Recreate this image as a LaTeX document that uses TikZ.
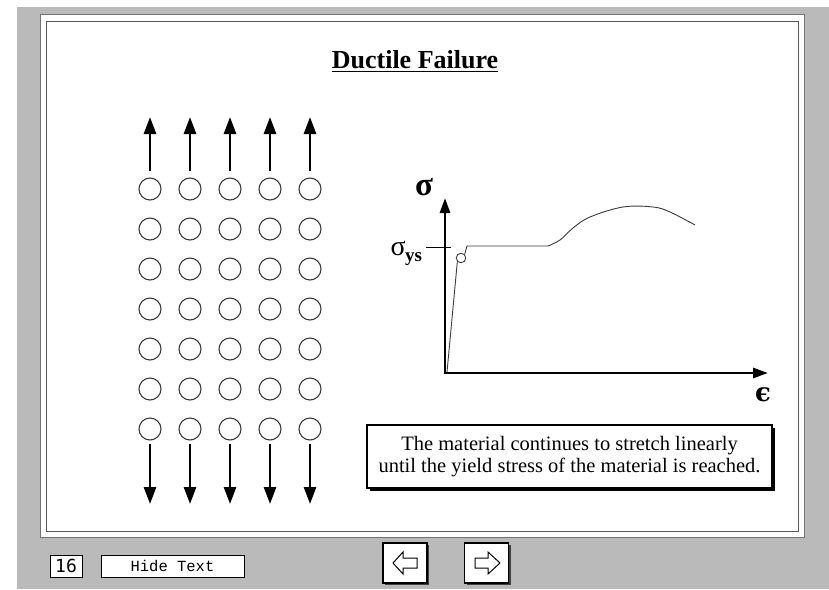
\documentclass[tikz,border=0pt]{standalone}
\usepackage{fontspec}
\setmainfont{Liberation Serif}
\setmonofont{Liberation Mono}
\newfontfamily\digitfont{DejaVu Sans Mono}
\newfontfamily\epsfont{DejaVu Serif}
\usetikzlibrary{arrows.meta,shadows}
\definecolor{bggray}{RGB}{186,186,186}
\definecolor{framegray}{RGB}{90,90,90}
\definecolor{curvegray}{RGB}{60,60,60}
\tikzset{
  atom/.style={circle,draw=curvegray,line width=1.1pt,minimum size=22pt,inner sep=0pt},
  parrow/.style={line width=2.8pt,-{Triangle[length=17pt,width=12pt]}},
  axisline/.style={line width=2.8pt,-{Triangle[length=15pt,width=10pt]}},
  curveline/.style={line width=0.9pt,draw=curvegray},
  msgbox/.style={draw=black,line width=1.2pt,fill=white,minimum width=405pt,minimum height=63pt,
    align=center,inner sep=0pt,font=\fontsize{20.5}{21.5}\selectfont,
    drop shadow={shadow xshift=3pt,shadow yshift=-3pt,fill=black,opacity=1}},
  smallbox/.style={draw=black,line width=0.8pt,fill=white,inner sep=0pt},
  navbtn/.style={draw=black,line width=1.1pt,fill=white,minimum width=44pt,minimum height=40pt,inner sep=0pt,
    drop shadow={shadow xshift=2pt,shadow yshift=-2pt,fill=black!75,opacity=1}},
  navicon/.style={draw=black,line width=1pt,fill=white,line join=miter}
}
\begin{document}
\begin{tikzpicture}[x=1pt,y=-1pt]
\useasboundingbox (0,0) rectangle (829,589);
% background
\fill[bggray] (17,7) rectangle (829,589);
% frame
\draw[fill=white,draw=black!55,line width=0.6pt] (40,14) rectangle (804,537);
\draw[framegray,line width=1.6pt] (46.5,21.5) rectangle (798.5,531.5);
% title
\node[anchor=base,inner sep=0pt,font=\fontsize{26}{28}\selectfont\bfseries] (title) at (415,68) {Ductile Failure};
\draw[line width=1.6pt] (title.base west) ++(0,3.5) coordinate (ul1) -- (ul1 -| title.base east);
% atoms
\foreach \r in {1,...,7}{
  \foreach \c in {1,...,5}{
    \node[atom] (a-\r-\c) at ({150+40*(\c-1)},{189+40*(\r-1)}) {};
  }
}
\foreach \c in {1,...,5}{
  \coordinate (up-\c) at ({150+40*(\c-1)},117);
  \coordinate (dn-\c) at ({150+40*(\c-1)},504);
  \draw[parrow] ([yshift=6pt]a-1-\c.north) -- (up-\c);
  \draw[parrow] ([yshift=-3pt]a-7-\c.south) -- (dn-\c);
}
% graph axes
\coordinate (O) at (445,373);
\coordinate (ytop) at (445,198);
\coordinate (xend) at (768,373);
\draw[axisline] ([yshift=-1.4pt]O) -- (ytop);
\draw[axisline] ([xshift=-1.4pt]O) -- (xend);
\node[font=\fontsize{33}{34}\selectfont\bfseries,inner sep=0pt] (sig) at (424,187) {σ};
\node[font=\epsfont\fontsize{26}{28}\selectfont\bfseries,inner sep=0pt] (eps) at (763,395) {ϵ};
% yield tick and label
\coordinate (t1) at (426,247);
\coordinate (t2) at (451,247);
\draw[line width=0.9pt] (t1) -- (t2);
\node[anchor=base east,inner sep=0pt,font=\fontsize{28}{30}\selectfont] (sys) at (406,255) {σ};
\node[anchor=base west,inner sep=0pt,font=\fontsize{19}{20}\selectfont\bfseries] (ys) at ([xshift=-1pt]sys.base east) {\raisebox{-6pt}{ys}};
% curve
\node[circle,draw=curvegray,line width=0.9pt,minimum size=9.5pt,inner sep=0pt,fill=white] (yc) at (461,258) {};
\coordinate (c0) at (447,372);
\draw[curveline] (c0) -- (yc.south west);
\draw[curveline] (yc.north east) -- (467,246) -- (548,246);
\draw[curveline] plot[smooth,tension=0.6] coordinates {(548,246) (560,240) (573,228) (590,217) (623,207) (653,207) (670,212) (695,225)};
% message box
\node[msgbox] (msg) at (569.5,456.5) {The material continues to stretch linearly\\until the yield stress of the material is reached.};
% bottom controls
\node[smallbox,minimum width=32pt,minimum height=22pt,font=\digitfont\fontsize{18}{18}\selectfont] (page) at (66,566) {16};
\node[smallbox,minimum width=143pt,minimum height=22pt,font=\ttfamily\fontsize{15.5}{16}\selectfont] (hide) at (172.5,566) {Hide Text};
\node[navbtn] (prev) at (405,563) {};
\node[navbtn] (next) at (486.5,563) {};
\draw[navicon] (393,563) -- (403,552) -- (403,558) -- (417,558) -- (417,568) -- (403,568) -- (403,574) -- cycle;
\draw[navicon] (500,563) -- (488,552) -- (488,558) -- (475,558) -- (475,568) -- (488,568) -- (488,574) -- cycle;
\end{tikzpicture}
\end{document}
